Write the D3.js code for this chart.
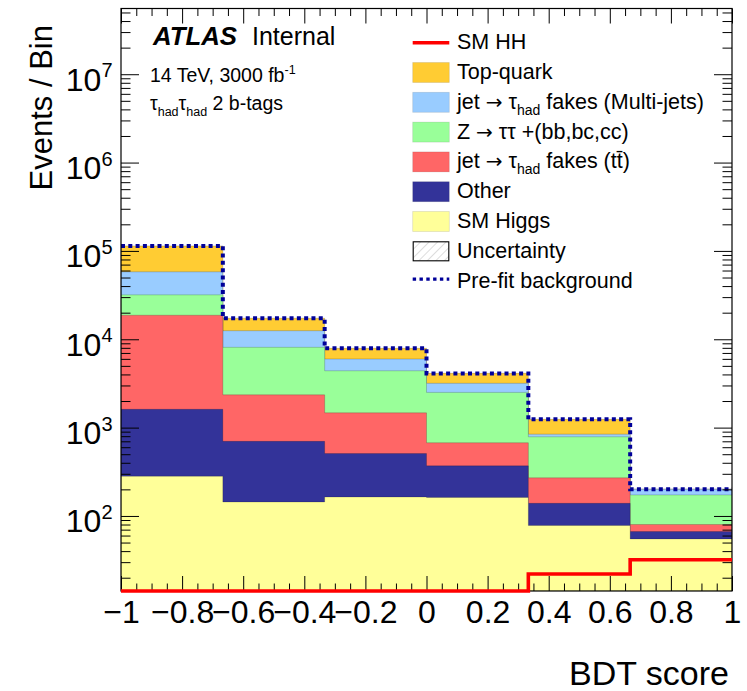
<!DOCTYPE html>
<html>
<head>
<meta charset="utf-8">
<script src="https://cdn.jsdelivr.net/npm/d3@7"></script>
<style>
  body { margin: 0; background: #fff; }
  svg { display: block; font-family: "Liberation Sans", Arial, Helvetica, sans-serif; }
</style>
</head>
<body>
<svg id="chart" width="747" height="691"></svg>
<script>
// BDT score bins (6 equal bins on [-1, 1])
const binEdges = [-1, -2 / 3, -1 / 3, 0, 1 / 3, 2 / 3, 1];

// Post-fit background contributions per bin (stacked bottom to top)
const smHiggs       = [282, 144, 164, 162, 78, 55];
const other         = [1330, 555, 345, 207, 61, 11.7];
const fakesTtbar    = [17100, 1650, 960, 305, 131, 13.3];
const zTauTau       = [13100, 5750, 2930, 1830, 517, 93];
const fakesMultijet = [26200, 4400, 1580, 670, 56, 28];
const topQuark      = [56000, 4800, 1920, 940, 397, 0];

// Pre-fit total background and SM HH signal
const preFitBkg = [114000, 17300, 7900, 4110, 1240, 201];
const smHH      = [0, 0, 0, 0, 22, 32];

// Axis ticks
const xTicks   = [-1, -0.8, -0.6, -0.4, -0.2, 0, 0.2, 0.4, 0.6, 0.8, 1];
const yDecades = [2, 3, 4, 5, 6, 7];

const svg = d3.select("#chart");
const P = { left: 121, right: 732, top: 8.5, bottom: 591 };
const yMin = Math.pow(10, 1.1506), yMax = Math.pow(10, 7.744);

const x = d3.scaleLinear().domain([-1, 1]).range([P.left, P.right]);
const y = d3.scaleLog().domain([yMin, yMax]).range([P.bottom, P.top]).clamp(true);

const defs = svg.append("defs");
defs.append("clipPath").attr("id", "plotClip")
  .append("rect").attr("x", P.left).attr("y", P.top)
  .attr("width", P.right - P.left).attr("height", P.bottom - P.top);
const hatch = defs.append("pattern").attr("id", "hatch")
  .attr("patternUnits", "userSpaceOnUse").attr("width", 6).attr("height", 6)
  .attr("patternTransform", "rotate(45)");
hatch.append("line").attr("x1", 0).attr("y1", 0).attr("x2", 0).attr("y2", 6)
  .attr("stroke", "#aaa").attr("stroke-width", 0.8);

// Table of bins for the stack layout
const keys = ["smHiggs", "other", "fakesTtbar", "zTauTau", "fakesMultijet", "topQuark"];
const series = { smHiggs, other, fakesTtbar, zTauTau, fakesMultijet, topQuark };
const colors = {
  smHiggs: "#ffff99", other: "#333399", fakesTtbar: "#ff6666",
  zTauTau: "#99ff99", fakesMultijet: "#99ccff", topQuark: "#ffcc33"
};
const table = binEdges.slice(0, -1).map((lo, i) => {
  const row = { lo, hi: binEdges[i + 1] };
  keys.forEach(k => row[k] = series[k][i]);
  return row;
});
const stacked = d3.stack().keys(keys)(table);

// Histogram step points: one point per bin left edge, plus closing right edge
function steps(vals) {
  const pts = vals.map((v, i) => [binEdges[i], v]);
  pts.push([binEdges[vals.length], vals[vals.length - 1]]);
  return pts;
}

const area = d3.area().curve(d3.curveStepAfter)
  .x(d => x(d[0])).y0(P.bottom).y1(d => y(Math.max(d[1], yMin)));
const line = d3.line().curve(d3.curveStepAfter)
  .x(d => x(d[0])).y(d => y(Math.max(d[1], yMin)));

const plotG = svg.append("g").attr("clip-path", "url(#plotClip)");

// Cumulative histograms drawn from the top of the stack downwards
stacked.slice().reverse().forEach(layer => {
  plotG.append("path")
    .attr("d", area(steps(layer.map(d => d[1]))))
    .attr("fill", colors[layer.key])
    .attr("stroke", "rgba(0,0,0,0.18)")
    .attr("stroke-width", 1);
});

// Pre-fit background (dotted)
plotG.append("path")
  .attr("d", line(steps(preFitBkg)))
  .attr("fill", "none").attr("stroke", "#000099")
  .attr("stroke-width", 4).attr("stroke-dasharray", "4 3.3");

// Axes: major and minor ticks on all four sides, pointing inward
const xMinor = d3.range(-1, 1.0001, 0.05).filter(v => Math.abs(Math.round(v * 5) - v * 5) > 1e-6);
const yMinor = [];
for (let d = 1; d <= 7; d++) for (let k = 2; k <= 9; k++) {
  const v = k * Math.pow(10, d);
  if (v > yMin && v < yMax) yMinor.push(v);
}
const yMajor = yDecades.map(d => Math.pow(10, d));
const fmt = t => (t < 0 ? "\u2212" + Math.abs(t) : String(t));

function styleAxis(g) {
  g.select(".domain").remove();
  g.selectAll(".tick line").attr("stroke", "#000").attr("stroke-width", 1);
  g.selectAll("text").attr("fill", "#000").attr("font-size", 32)
    .attr("font-family", "'Liberation Sans', Arial, sans-serif");
}

svg.append("g").attr("transform", `translate(0,${P.bottom})`)
  .call(d3.axisBottom(x).tickValues(xTicks).tickSize(-15).tickSizeOuter(0).tickPadding(9.5).tickFormat(fmt))
  .call(styleAxis);
svg.append("g").attr("transform", `translate(0,${P.bottom})`)
  .call(d3.axisBottom(x).tickValues(xMinor).tickSize(-7.5).tickSizeOuter(0).tickFormat(""))
  .call(styleAxis);
svg.append("g").attr("transform", `translate(0,${P.top})`)
  .call(d3.axisTop(x).tickValues(xTicks).tickSize(-15).tickSizeOuter(0).tickFormat(""))
  .call(styleAxis);
svg.append("g").attr("transform", `translate(0,${P.top})`)
  .call(d3.axisTop(x).tickValues(xMinor).tickSize(-7.5).tickSizeOuter(0).tickFormat(""))
  .call(styleAxis);
svg.append("g").attr("transform", `translate(${P.left},0)`)
  .call(d3.axisLeft(y).tickValues(yMajor).tickSize(-18).tickSizeOuter(0).tickFormat(""))
  .call(styleAxis);
svg.append("g").attr("transform", `translate(${P.left},0)`)
  .call(d3.axisLeft(y).tickValues(yMinor).tickSize(-9.5).tickSizeOuter(0).tickFormat(""))
  .call(styleAxis);
svg.append("g").attr("transform", `translate(${P.right},0)`)
  .call(d3.axisRight(y).tickValues(yMajor).tickSize(-18).tickSizeOuter(0).tickFormat(""))
  .call(styleAxis);
svg.append("g").attr("transform", `translate(${P.right},0)`)
  .call(d3.axisRight(y).tickValues(yMinor).tickSize(-9.5).tickSizeOuter(0).tickFormat(""))
  .call(styleAxis);

// Frame
svg.append("rect").attr("x", P.left).attr("y", P.top)
  .attr("width", P.right - P.left).attr("height", P.bottom - P.top)
  .attr("fill", "none").attr("stroke", "#000").attr("stroke-width", 1.2);

// SM HH signal (solid red), drawn over the frame
svg.append("path")
  .attr("d", line(steps(smHH)))
  .attr("fill", "none").attr("stroke", "#ff0000").attr("stroke-width", 3.6);

// Y tick labels as 10^n
yDecades.forEach(d => {
  const t = svg.append("text").attr("x", 112.5).attr("y", y(Math.pow(10, d)) + 16.5)
    .attr("text-anchor", "end").attr("fill", "#000");
  t.append("tspan").attr("font-size", 32).text("10");
  t.append("tspan").attr("font-size", 20).attr("dy", -13.5).text(String(d));
});

// Axis titles
svg.append("text").attr("x", 729).attr("y", 685).attr("text-anchor", "end")
  .attr("font-size", 34).attr("fill", "#000").text("BDT score");
svg.append("text").attr("transform", "translate(52,25) rotate(-90)")
  .attr("text-anchor", "end").attr("font-size", 31).attr("fill", "#000").text("Events / Bin");

// Labels in the upper left
const atlas = svg.append("text").attr("x", 153).attr("y", 45).attr("font-size", 25).attr("fill", "#000");
atlas.append("tspan").attr("font-weight", "bold").attr("font-style", "italic").attr("font-size", 25.8).text("ATLAS");
atlas.append("tspan").attr("x", 252).text("Internal");

const lumi = svg.append("text").attr("x", 150).attr("y", 81.5).attr("font-size", 19.5).attr("fill", "#000");
lumi.append("tspan").text("14 TeV, 3000 fb");
lumi.append("tspan").attr("font-size", 12.5).attr("dy", -8).text("-1");

const chan = svg.append("text").attr("x", 150).attr("y", 110).attr("font-size", 19.5).attr("fill", "#000");
chan.append("tspan").text("\u03c4");
chan.append("tspan").attr("font-size", 12.5).attr("dy", 6).text("had");
chan.append("tspan").attr("dy", -6).text("\u03c4");
chan.append("tspan").attr("font-size", 12.5).attr("dy", 6).text("had");
chan.append("tspan").attr("dy", -6).text(" 2 b-tags");

// Legend
const legendRows = [
  { kind: "line", color: "#ff0000", label: [["SM HH"]] },
  { kind: "fill", color: colors.topQuark, label: [["Top-quark"]] },
  { kind: "fill", color: colors.fakesMultijet, label: [["jet "], ["\u2192", "arrow"], [" \u03c4"], ["had", "sub"], [" fakes (Multi-jets)"]] },
  { kind: "fill", color: colors.zTauTau, label: [["Z "], ["\u2192", "arrow"], [" \u03c4\u03c4 +(bb,bc,cc)"]] },
  { kind: "fill", color: colors.fakesTtbar, label: [["jet "], ["\u2192", "arrow"], [" \u03c4"], ["had", "sub"], [" fakes (tt\u0304)"]] },
  { kind: "fill", color: colors.other, label: [["Other"]] },
  { kind: "fill", color: colors.smHiggs, label: [["SM Higgs"]] },
  { kind: "hatch", color: null, label: [["Uncertainty"]] },
  { kind: "dots", color: "#000099", label: [["Pre-fit background"]] }
];
const lg = svg.append("g");
legendRows.forEach((row, i) => {
  const cy = 42.7 + i * 29.8;
  const sx = 412.7, sw = 36.6;
  if (row.kind === "fill") {
    lg.append("rect").attr("x", sx).attr("y", cy - 10).attr("width", sw).attr("height", 20)
      .attr("fill", row.color).attr("stroke", "rgba(0,0,0,0.12)").attr("stroke-width", 0.8);
  } else if (row.kind === "hatch") {
    lg.append("rect").attr("x", sx + 0.5).attr("y", cy - 9.5).attr("width", sw - 1).attr("height", 19)
      .attr("fill", "url(#hatch)").attr("stroke", "#000").attr("stroke-width", 1.1);
  } else if (row.kind === "line") {
    lg.append("line").attr("x1", sx).attr("x2", sx + sw).attr("y1", cy).attr("y2", cy)
      .attr("stroke", row.color).attr("stroke-width", 3.4);
  } else {
    lg.append("line").attr("x1", sx).attr("x2", sx + sw).attr("y1", cy - 2).attr("y2", cy - 2)
      .attr("stroke", row.color).attr("stroke-width", 3.4).attr("stroke-dasharray", "3.4 3.4");
  }
  const t = lg.append("text").attr("x", 457).attr("y", cy + 6.5).attr("font-size", 21.5).attr("fill", "#000");
  let shift = 0;
  row.label.forEach(([s, kind]) => {
    const sp = t.append("tspan").text(s);
    if (kind === "sub") {
      sp.attr("font-size", 14).attr("dy", 6 - shift); shift = 6;
    } else {
      if (shift) { sp.attr("dy", -shift); shift = 0; }
      if (kind === "arrow") sp.attr("font-size", 20).attr("font-family", "'DejaVu Sans', sans-serif");
    }
  });
});
</script>
</body>
</html>
